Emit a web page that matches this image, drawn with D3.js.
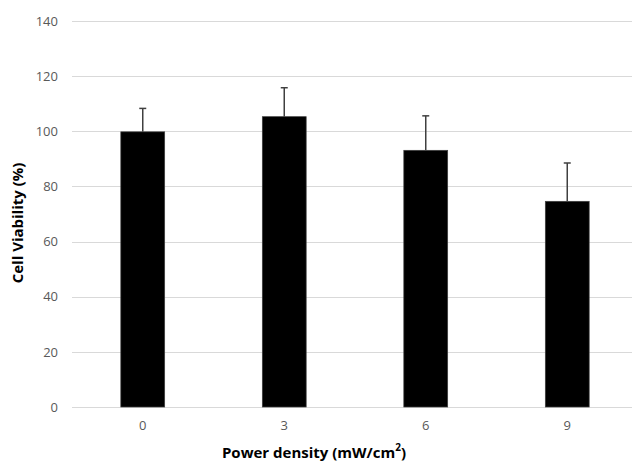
<!DOCTYPE html>
<html>
<head>
<meta charset="utf-8">
<script src="https://cdn.jsdelivr.net/npm/d3@7"></script>
<style>
  body { margin: 0; background: #fff; }
  .tick text { font-family: "Open Sans", sans-serif; font-size: 13px; fill: #595959; }
  .axis-label { font-family: "Open Sans", sans-serif; font-size: 15px; font-weight: bold; fill: #000; }
</style>
</head>
<body>
<div id="chart"></div>
<script>
// data
var categories = ["0", "3", "6", "9"];
var viability  = [99.8, 105.3, 93.1, 74.6];
var errorUp    = [8.5, 10.5, 12.5, 13.9];
var yTicks     = [0, 20, 40, 60, 80, 100, 120, 140];

var width = 632, height = 461;
var margin = { top: 21, bottom: 54, left: 72, right: -6 };
var inner = {
	width: width - margin.left - margin.right,
	height: height - margin.top - margin.bottom };

var svg = d3.select("#chart").append("svg")
	.attr("width", width)
	.attr("height", height);

var g = svg.append("g")
	.attr("transform", "translate(" + margin.left + "," + margin.top + ")");

var x = d3.scaleBand().domain(categories).range([0, inner.width]).paddingInner(0.69).paddingOuter(0.345);
var y = d3.scaleLinear().domain([0, 140]).range([inner.height, 0]);

// gridlines
g.append("g")
	.selectAll("line")
	.data(yTicks)
	.enter().append("line")
	.attr("x1", 0)
	.attr("x2", width - margin.left)
	.attr("y1", function(d) { return Math.round(y(d)) + 0.5; })
	.attr("y2", function(d) { return Math.round(y(d)) + 0.5; })
	.attr("stroke", "#d9d9d9")
	.attr("stroke-width", 1);

// y axis, no line
var yAxis = g.append("g")
	.call(d3.axisLeft(y).tickValues(yTicks).tickSize(0).tickPadding(14));
yAxis.select(".domain").remove();

// x axis labels
var xAxis = g.append("g")
	.attr("transform", "translate(0," + inner.height + ")")
	.call(d3.axisBottom(x).tickSize(0).tickPadding(14));
xAxis.select(".domain").remove();

// bars
var data = categories.map(function(c, i) { return { cat: c, v: viability[i], e: errorUp[i] }; });

g.append("g")
	.selectAll("rect")
	.data(data)
	.enter().append("rect")
	.attr("x", function(d) { return x(d.cat); })
	.attr("width", x.bandwidth())
	.attr("y", function(d) { return y(d.v); })
	.attr("height", function(d) { return y(0) - y(d.v); })
	.attr("fill", "#000")
	.attr("stroke", "#404040")
	.attr("stroke-width", 0.7);

// error bars (upper only)
var err = g.append("g").attr("stroke", "#404040").attr("stroke-width", 1.5);
err.selectAll("line.stem")
	.data(data)
	.enter().append("line")
	.attr("class", "stem")
	.attr("x1", function(d) { return x(d.cat) + x.bandwidth() / 2; })
	.attr("x2", function(d) { return x(d.cat) + x.bandwidth() / 2; })
	.attr("y1", function(d) { return y(d.v); })
	.attr("y2", function(d) { return y(d.v + d.e); });
err.selectAll("line.cap")
	.data(data)
	.enter().append("line")
	.attr("class", "cap")
	.attr("x1", function(d) { return x(d.cat) + x.bandwidth() / 2 - 3.5; })
	.attr("x2", function(d) { return x(d.cat) + x.bandwidth() / 2 + 3.5; })
	.attr("y1", function(d) { return y(d.v + d.e); })
	.attr("y2", function(d) { return y(d.v + d.e); });

// axis titles
var xt = svg.append("text")
	.attr("class", "axis-label")
	.attr("text-anchor", "middle")
	.attr("x", 314)
	.attr("y", 458);
xt.append("tspan").text("Power density (mW/cm");
xt.append("tspan").attr("baseline-shift", "super").attr("font-size", "10px").text("2");
xt.append("tspan").text(")");

svg.append("text")
	.attr("class", "axis-label")
	.attr("text-anchor", "middle")
	.attr("transform", "translate(23,223) rotate(-90)")
	.text("Cell Viability (%)");
</script>
</body>
</html>
